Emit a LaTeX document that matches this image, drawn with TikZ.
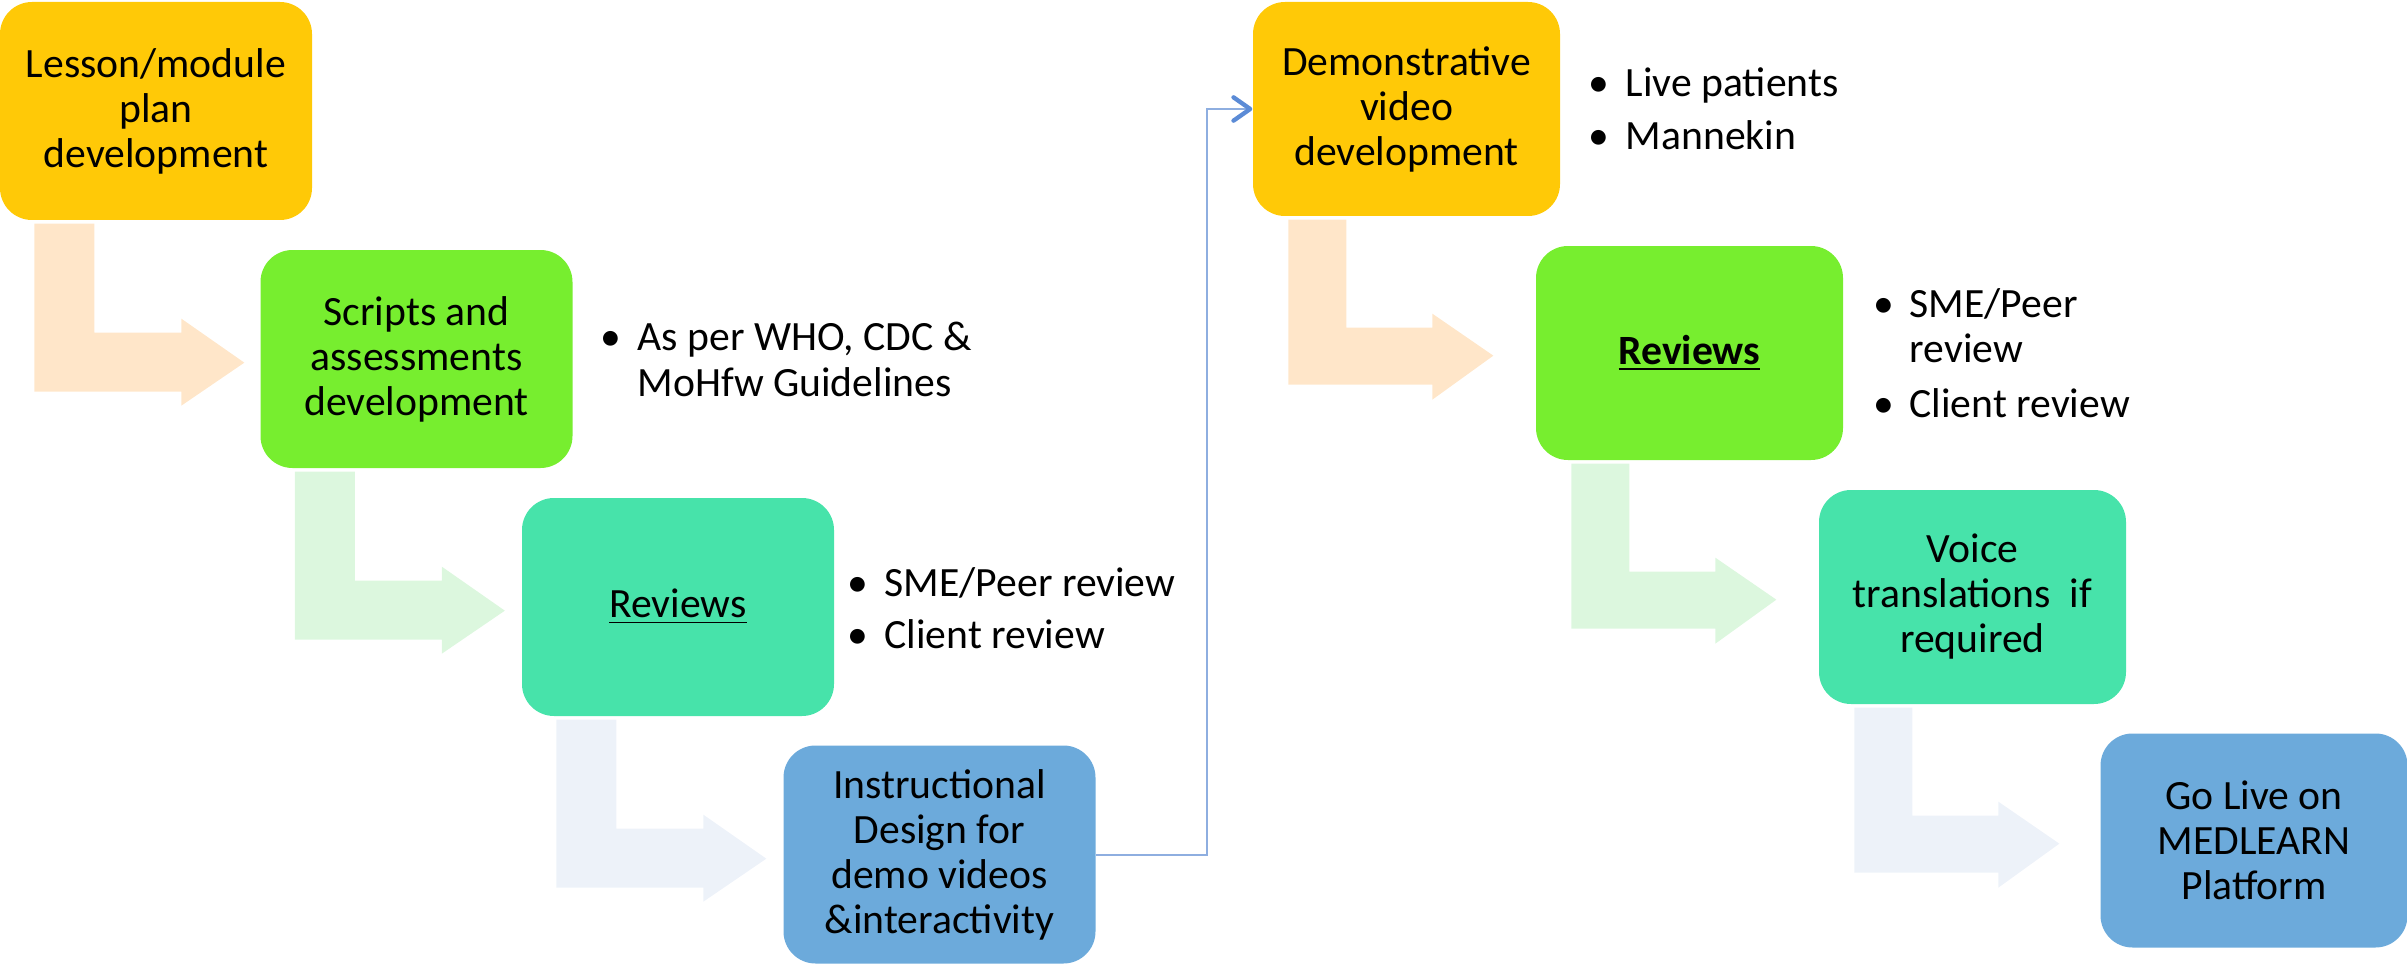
\documentclass[tikz,border=0pt]{standalone}
\usepackage{fontspec}
\setmainfont{Carlito}
\usetikzlibrary{arrows.meta,calc}
\definecolor{cOrange}{HTML}{FFC907}
\definecolor{cGreen}{HTML}{77EE2F}
\definecolor{cTeal}{HTML}{47E3AA}
\definecolor{cBlue}{HTML}{6CAADB}
\definecolor{aPeach}{HTML}{FFE6C9}
\definecolor{aGreen}{HTML}{DCF7DE}
\definecolor{aBlue}{HTML}{EDF2F9}
\definecolor{connLine}{HTML}{8EAEE0}
\definecolor{connHead}{HTML}{5B8BD6}
\newcommand\bentL[2]{\fill[#2] ($(#1.south west)+(35,3)$) -- ++(60,0) -- ++(0,109) -- ++(87,0) -- ++(0,-14) -- ++(63,44) -- ++(-63,43) -- ++(0,-14) -- ++(-147,0) -- cycle;}
\newcommand\bentR[2]{\fill[#2] ($(#1.south west)+(36,3)$) -- ++(58,0) -- ++(0,108) -- ++(86,0) -- ++(0,-14) -- ++(61,42) -- ++(-61,44) -- ++(0,-15) -- ++(-144,0) -- cycle;}
\begin{document}
\begin{tikzpicture}[x=0.3pt,y=-0.3pt,
  txt/.style={font=\fontsize{12.5}{13.5}\selectfont},
  boxL/.style={txt, rounded corners=9.6pt, inner sep=0pt, align=center, minimum width=93.6pt, minimum height=65.4pt},
  boxR/.style={txt, rounded corners=9.6pt, inner sep=0pt, align=center, minimum width=92.1pt, minimum height=64.2pt},
  btxt/.style={txt, anchor=base west, inner sep=0pt},
  bdot/.style={txt, anchor=base, inner sep=0pt},
  conn/.style={draw=connLine, line width=0.6pt, -{Straight Barb[length=5pt,width=7pt,line width=1.3pt,color=connHead,round]}}]
\useasboundingbox (0,0) rectangle (2407,965);
% boxes
\node[boxL, fill=cOrange] (b1) at (156,111) {Lesson/module\\plan\\development};
\node[boxL, fill=cGreen] (b2) at (416.5,359) {Scripts and\\assessments\\development};
\node[boxL, fill=cTeal] (b3) at (678,607) {\underline{Reviews}};
\node[boxL, fill=cBlue] (b4) at (939.5,854.5) {Instructional\\Design for\\demo videos\\\&interactivity};
\node[boxR, fill=cOrange] (b5) at (1406.5,109) {Demonstrative\\video\\development};
\node[boxR, fill=cGreen] (b6) at (1689.5,353) {\underline{\textbf{Reviews}}};
\node[boxR, fill=cTeal] (b7) at (1972.5,597) {Voice\\translations\ \ if\\required};
\node[boxR, fill=cBlue] (b8) at (2254,840.5) {Go Live on\\MEDLEARN\\Platform};
% bent arrows
\bentL{b1}{aPeach}
\bentL{b2}{aGreen}
\bentL{b3}{aBlue}
\bentR{b5}{aPeach}
\bentR{b6}{aGreen}
\bentR{b7}{aBlue}
% connector
\coordinate (bend) at (1207,0);
\draw[conn] (b4.east) -- (b4.east -| bend) -- (bend |- b5.west) -- (b5.west);
% bullets
\node[bdot] (d1) at (610.5,350) {•};
\node[btxt] (t1a) at (637,350) {As per WHO, CDC \&};
\node[btxt] (t1b) at (637,396) {MoHfw Guidelines};
\node[bdot] (d2) at (857.5,596) {•};
\node[btxt] (t2) at (884,596) {SME/Peer review};
\node[bdot] (d3) at (857.5,648) {•};
\node[btxt] (t3) at (884,648) {Client review};
\node[bdot] (d4) at (1598.5,97) {•};
\node[btxt] (t4) at (1625,97) {Live patients};
\node[bdot] (d5) at (1598.5,150) {•};
\node[btxt] (t5) at (1625,150) {Mannekin};
\node[bdot] (d6) at (1883.5,317) {•};
\node[btxt] (t6a) at (1909,317) {SME/Peer};
\node[btxt] (t6b) at (1909,362) {review};
\node[bdot] (d7) at (1883.5,417) {•};
\node[btxt] (t7) at (1909,417) {Client review};
\end{tikzpicture}
\end{document}
